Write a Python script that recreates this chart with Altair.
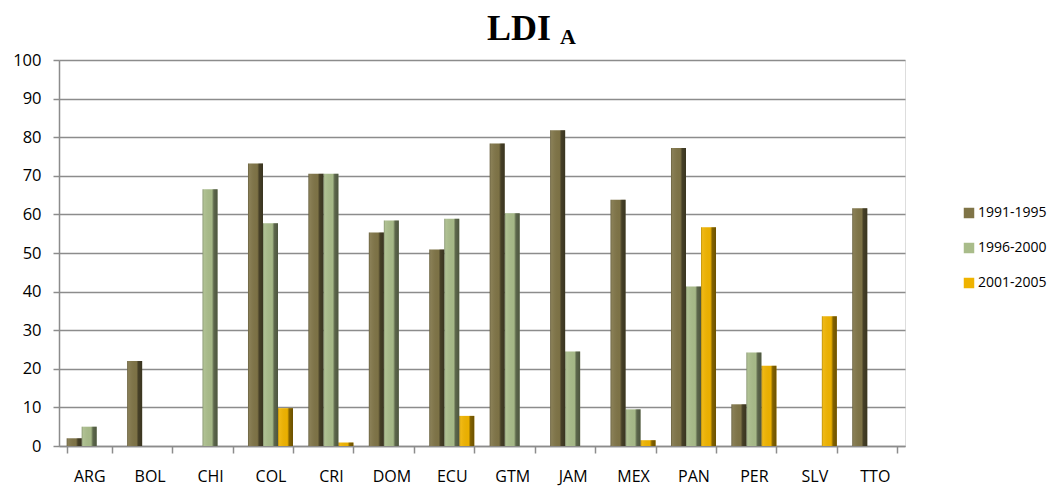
import altair as alt
import pandas as pd

categories = ["ARG", "BOL", "CHI", "COL", "CRI", "DOM", "ECU", "GTM", "JAM", "MEX", "PAN", "PER", "SLV", "TTO"]
series = ["1991-1995", "1996-2000", "2001-2005"]
s1991 = [2, 22, None, 73.2, 70.5, 55.3, 50.9, 78.4, 81.8, 63.8, 77.2, 10.8, None, 61.6]
s1996 = [5, None, 66.5, 57.7, 70.5, 58.4, 58.9, 60.3, 24.5, 9.5, 41.3, 24.2, None, None]
s2001 = [None, None, None, 9.8, 0.9, None, 7.8, None, None, 1.5, 56.7, 20.8, 33.6, None]
colors = ["#7f7447", "#a9bc8a", "#efb300"]

rows = []
for name, vals in zip(series, [s1991, s1996, s2001]):
    for c, v in zip(categories, vals):
        if v is not None:
            rows.append({"country": c, "period": name, "value": v})
df = pd.DataFrame(rows)

grid = "#8c8c8c"
font = "Open Sans"

x_enc = alt.X("country:N", sort=categories, title=None,
              scale=alt.Scale(paddingInner=0.255, paddingOuter=0.1275),
              axis=alt.Axis(labelAngle=0, labelFontSize=16, labelFont=font, labelColor="#000000",
                            tickBand="extent", tickSize=7, tickColor=grid, domainColor=grid,
                            domainWidth=1.5, tickWidth=1.5, labelPadding=15, grid=False))
y_enc = alt.Y("value:Q", title=None,
              scale=alt.Scale(domain=[0, 100], nice=False),
              axis=alt.Axis(values=list(range(0, 101, 10)), labelFontSize=16.5, labelFont=font,
                            labelColor="#000000", gridColor=grid, gridWidth=1.5, tickColor=grid,
                            tickSize=6, tickWidth=1.5, domainColor=grid, domainWidth=1.5,
                            labelPadding=12))
xo_enc = alt.XOffset("period:N", scale=alt.Scale(domain=series, paddingInner=0, paddingOuter=0))

bars = alt.Chart(df).mark_bar().encode(
    x=x_enc, y=y_enc, xOffset=xo_enc,
    color=alt.Color("period:N", scale=alt.Scale(domain=series, range=colors),
                    legend=alt.Legend(title=None, orient="none", legendX=903, legendY=146,
                                      symbolType="square", symbolSize=110, symbolStrokeWidth=0,
                                      labelFontSize=14, labelFont=font, labelColor="#000000",
                                      rowPadding=21, labelOffset=2)),
)

shade = alt.Gradient(
    gradient="linear", x1=0, x2=1, y1=0, y2=0,
    stops=[
        alt.GradientStop(color="rgba(0,0,0,0.25)", offset=0),
        alt.GradientStop(color="rgba(255,255,255,0.08)", offset=0.12),
        alt.GradientStop(color="rgba(0,0,0,0.02)", offset=0.62),
        alt.GradientStop(color="rgba(0,0,0,0.45)", offset=0.75),
        alt.GradientStop(color="rgba(0,0,0,0.55)", offset=1),
    ],
)
overlay = alt.Chart(df).mark_bar(fill=shade).encode(x=x_enc, y=y_enc, xOffset=xo_enc)

title_df = pd.DataFrame({"t": ["LDI"]})
t_main = alt.Chart(title_df).mark_text(font="Liberation Serif", fontWeight="bold", fontSize=36,
                                       align="left", baseline="alphabetic", color="#000000").encode(
    x=alt.value(428), y=alt.value(-20), text="t:N")
sub_df = pd.DataFrame({"t": ["A"]})
t_sub = alt.Chart(sub_df).mark_text(font="Liberation Serif", fontWeight="bold", fontSize=22,
                                    align="left", baseline="alphabetic", color="#000000").encode(
    x=alt.value(501), y=alt.value(-16), text="t:N")

chart = alt.layer(bars, overlay, t_main, t_sub).properties(
    width=846, height=386,
    autosize=alt.AutoSizeParams(type="none"),
    padding={"left": 51, "top": 52, "right": 145, "bottom": 41},
).configure_view(stroke=grid, strokeWidth=1.5).configure(background="#ffffff")

chart.save("out.html", embed_options={"renderer": "svg", "actions": False})
